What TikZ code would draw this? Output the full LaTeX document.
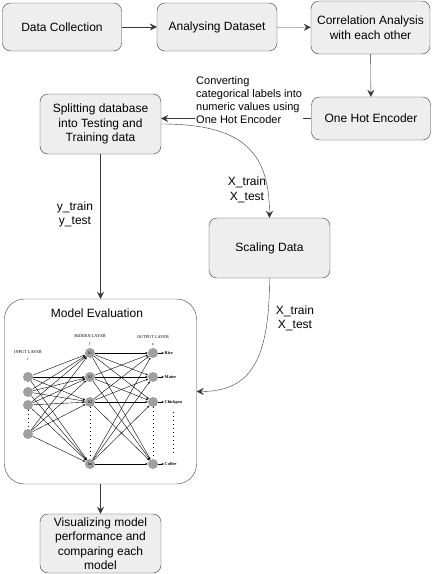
\documentclass[tikz,border=0pt]{standalone}
\usepackage{fontspec}
\setmainfont{Liberation Sans}
\newfontfamily\nnfont{Liberation Serif}
\usetikzlibrary{arrows.meta,positioning}
\definecolor{boxfill}{HTML}{EEEEEE}
\definecolor{boxline}{HTML}{36393D}
\tikzset{
  stagebox/.style={draw=boxline, fill=boxfill, rounded corners=8pt, align=center, inner sep=0pt,
    font=\fontsize{12}{14.5}\selectfont},
  flow/.style={draw=boxline, -{Stealth[length=7pt,width=7pt,inset=2.5pt]}},
  edgelbl/.style={align=center, font=\fontsize{12}{14.5}\selectfont, inner sep=1pt},
  neuron/.style={circle, fill=gray!75, inner sep=0pt, minimum size=10pt, font=\nnfont\fontsize{4}{4.5}\selectfont},
  link/.style={-{Stealth[length=2.5pt,width=2pt]}, line width=0.4pt},
  lay/.style={align=center, inner sep=0.5pt, font=\nnfont\fontsize{4.3}{7}\selectfont}
}
\begin{document}
\begin{tikzpicture}[x=1pt,y=-1pt]
  \useasboundingbox (0,0) rectangle (432,574);
  % top row
  \node[stagebox, minimum width=119pt, minimum height=48pt] (collect) at (62,27) {Data Collection};
  \node[stagebox, minimum width=120pt, minimum height=48pt] (analyse) at (217,27) {Analysing Dataset};
  \node[stagebox, minimum width=119pt, minimum height=53pt] (corr) at (370.5,27.5) {Correlation Analysis\\with each other};
  \node[stagebox, minimum width=119pt, minimum height=43pt] (ohe) at (371,118.5) {One Hot Encoder};
  % middle
  \node[stagebox, minimum width=121pt, minimum height=60pt] (split) at (100.5,124) {Splitting database\\into Testing and\\Training data};
  \node[stagebox, minimum width=121pt, minimum height=60pt] (scale) at (269.5,248) {Scaling Data};
  \node[draw=boxline, fill=white, rounded corners=20pt, minimum width=192pt, minimum height=185pt] (model) at (100.5,391.5) {};
  \node[stagebox, minimum width=121pt, minimum height=59pt] (vis) at (100.5,543.5) {Visualizing model\\performance and\\comparing each\\model};

  \draw[flow] (collect) -- (analyse);
  \draw[flow] (analyse) -- (corr);
  \draw[flow] (corr) -- (ohe);
  \draw[flow] (ohe.west) -- (split.east |- ohe.west);
  \node[fill=white, align=left, inner sep=1pt, anchor=south west, font=\fontsize{11}{13}\selectfont] (convlbl) at (195,125)
    {Converting\\categorical labels into\\numeric values using\\One Hot Encoder};
  \draw[flow] (split.east) .. controls +(79,0) and +(0,-68) .. (scale.north);
  \node[edgelbl] (xlbl) at (247,190) {X\_train\\X\_test};
  \draw[flow] (split) -- (model);
  \node[edgelbl] (ylbl) at (75,214.5) {y\_train\\y\_test};
  \draw[flow] (scale.south) .. controls +(0,82) and +(54,0) .. (model.east);
  \node[edgelbl] (xlbl2) at (295,318.5) {X\_train\\X\_test};
  \draw[flow] (model) -- (vis);

  % network inside the evaluation box
  \node[font=\fontsize{12}{14}\selectfont] (title) at (97,313) {Model Evaluation};
  \node[lay] (inlbl) at (28,356) {INPUT LAYER\\\textit{i}};
  \node[lay] (hidlbl) at (90,340.5) {HIDDEN LAYER\\\textit{j}};
  \node[lay] (outlbl) at (153,340.5) {OUTPUT LAYER\\\textit{o}};
  \foreach \n/\y in {1/377,2/392,3/405,4/434}
    \node[neuron] (in\n) at (28,\y) {};
  \foreach \n/\y/\t in {1/353/h1,2/377/h2,3/402/h3,4/464/hn}
    \node[neuron] (hid\n) at (90,\y) {\t};
  \foreach \n/\y/\t in {1/353/Rice,2/377/Maize,3/402/Chickpea,4/464/Coffee} {
    \node[neuron] (out\n) at (153,\y) {};
    \node[lay, anchor=west] (res\n) at (164,\y) {\textbf{\t}}; % class names
    \draw[link] (out\n) -- (res\n);
  }
  \foreach \i in {1,...,4}
    \foreach \j in {1,...,4} {
      \draw[link] (in\i) -- (hid\j);
      \draw[link] (hid\i) -- (out\j);
    }
  \draw[dash pattern=on 0.7pt off 3.3pt] (in3) -- (in4);
  \draw[dash pattern=on 0.7pt off 3.3pt] (hid3) -- (hid4);
  \draw[dash pattern=on 0.7pt off 3.3pt] (out3) -- (out4);
  \draw[dash pattern=on 0.7pt off 3.3pt] (173,412) -- (173,456);
\end{tikzpicture}
\end{document}
